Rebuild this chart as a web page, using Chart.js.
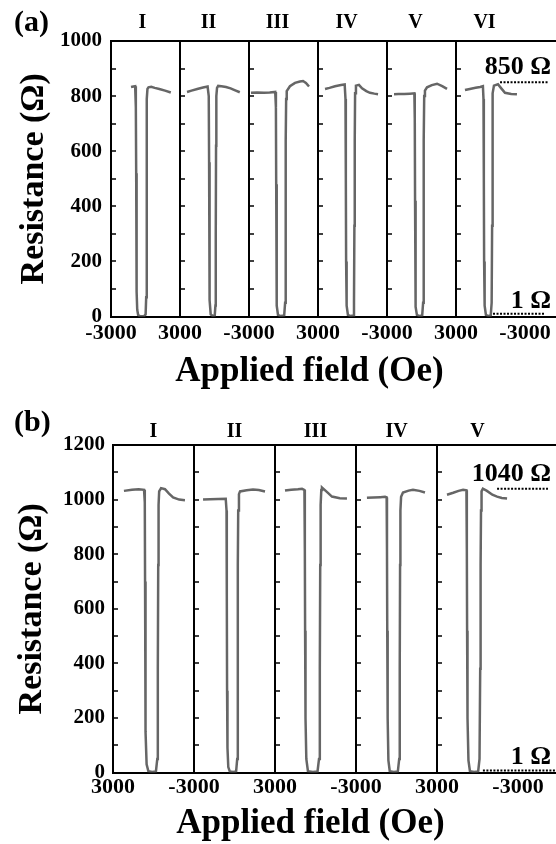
<!DOCTYPE html>
<html>
<head>
<meta charset="utf-8">
<script src="https://cdn.jsdelivr.net/npm/chart.js@4.4.1/dist/chart.umd.min.js"></script>
<style>
  html, body { margin: 0; padding: 0; background: #fff; }
  canvas { display: block; }
</style>
</head>
<body>
<canvas id="chartA" width="556" height="400"></canvas>
<canvas id="chartB" width="556" height="444"></canvas>
<script>
// ---- (a) six sweeps, field in Oe, resistance in Ohm ----
const romanA = ['I', 'II', 'III', 'IV', 'V', 'VI'];
const edgeTicksA = [-3000, 3000, -3000, 3000, -3000, 3000, -3000];

const fieldA1 = [-1260, -1050, -900, -840, -810, -785, -760, -720, -640, -500, -320, -120, 10, 60, 90, 110, 130, 170, 260, 500, 800, 1200, 1700, 2200];
const resA1 = [833, 835, 836, 760, 520, 260, 90, 25, 6, 2, 1, 2, 8, 70, 330, 620, 790, 826, 832, 834, 830, 826, 820, 813];
const fieldA2 = [2390, 2000, 1500, 1000, 600, 500, 470, 445, 410, 330, 150, -20, -80, -110, -135, -160, -220, -320, -600, -1000, -1400, -1800, -2200];
const resA2 = [815, 820, 826, 831, 835, 800, 560, 250, 60, 8, 2, 4, 40, 300, 620, 800, 830, 837, 836, 833, 828, 821, 814];
const fieldA3 = [-2830, -2300, -1700, -1200, -720, -660, -635, -610, -570, -480, -250, 60, 140, 180, 205, 230, 280, 560, 1000, 1430, 1700, 1950, 2220];
const resA3 = [812, 813, 812, 813, 815, 760, 480, 180, 40, 6, 2, 4, 50, 330, 640, 790, 818, 836, 848, 853, 855, 848, 835];
const fieldA4 = [2390, 2000, 1520, 1000, 680, 610, 580, 555, 510, 400, 150, -60, -130, -165, -195, -225, -300, -560, -830, -1200, -1520, -1900, -2220];
const resA4 = [826, 830, 836, 840, 842, 790, 500, 200, 40, 6, 2, 4, 50, 330, 640, 810, 838, 841, 828, 818, 812, 809, 807];
const fieldA5 = [-2390, -2000, -1500, -1000, -620, -585, -560, -535, -490, -400, -160, 60, 140, 180, 205, 235, 300, 480, 900, 1350, 1800, 2220];
const resA5 = [807, 808, 808, 809, 810, 720, 420, 160, 35, 6, 2, 4, 50, 330, 640, 800, 820, 832, 840, 845, 836, 826];
const fieldA6 = [2220, 1800, 1300, 900, 660, 610, 580, 555, 510, 400, 160, -20, -100, -140, -170, -200, -300, -650, -900, -1260, -1800, -2300];
const resA6 = [822, 826, 830, 833, 836, 790, 500, 200, 40, 6, 2, 4, 50, 330, 640, 810, 838, 843, 830, 812, 808, 807];

// reference levels drawn in the last sweep of (a)
const hiFieldA = [-830, -5000];
const hiResA = [850, 850];
const loFieldA = [-220, -4750];
const loResA = [10, 10];

// ---- (b) five sweeps ----
const romanB = ['I', 'II', 'III', 'IV', 'V'];
const edgeTicksB = [3000, -3000, 3000, -3000, 3000, -3000];

const fieldB1 = [2190, 1600, 1100, 700, 645, 625, 605, 575, 510, 380, 100, -180, -280, -320, -350, -375, -420, -560, -850, -1150, -1450, -1900, -2330];
const resB1 = [1032, 1036, 1038, 1036, 990, 700, 400, 150, 30, 5, 2, 4, 50, 380, 760, 980, 1030, 1042, 1038, 1022, 1008, 1000, 998];
const fieldB2 = [-2330, -1800, -1200, -650, -590, -570, -550, -520, -460, -350, -100, 120, 200, 235, 255, 275, 330, 410, 900, 1370, 1800, 2260];
const resB2 = [1000, 1001, 1002, 1003, 960, 650, 300, 90, 20, 4, 2, 4, 50, 380, 760, 960, 1020, 1030, 1034, 1037, 1035, 1030];
const fieldB3 = [2260, 1800, 1300, 1000, 820, 790, 770, 740, 680, 560, 200, -150, -260, -320, -350, -380, -430, -480, -800, -1220, -1800, -2330];
const resB3 = [1033, 1036, 1038, 1040, 1035, 820, 520, 200, 50, 5, 2, 4, 50, 380, 760, 980, 1035, 1044, 1030, 1011, 1005, 1004];
const fieldB4 = [-2190, -1700, -1200, -850, -730, -705, -685, -655, -600, -500, -200, 100, 200, 240, 265, 290, 340, 480, 900, 1220, 1700, 2110];
const resB4 = [1007, 1008, 1009, 1010, 1008, 820, 520, 200, 45, 5, 2, 4, 50, 380, 760, 960, 1010, 1026, 1033, 1036, 1032, 1026];
const fieldB5 = [2260, 1800, 1400, 1070, 820, 790, 770, 740, 670, 560, 250, -50, -150, -200, -230, -260, -300, -400, -700, -1100, -1450, -1800, -2190];
const resB5 = [1018, 1025, 1032, 1036, 1034, 820, 520, 200, 45, 5, 2, 4, 50, 380, 760, 960, 1030, 1040, 1032, 1018, 1011, 1006, 1004];

const hiFieldB = [-1450, -5220];
const hiResB = [1040, 1040];
const loFieldB = [-400, -5815];
const loResB = [8, 8];

const SERIF = '"Liberation Serif", "Times New Roman", serif';
Chart.defaults.font.family = SERIF;
Chart.defaults.font.weight = 'bold';
Chart.defaults.color = '#000';

const toPoints = (xs, ys) => xs.map((x, i) => ({ x, y: ys[i] }));

/**
 * Build one figure panel: side-by-side field sweeps sharing one resistance axis
 * @param {string} canvasId - Canvas element ID
 * @param {Object} cfg - data + layout for the panel
 * @returns {Chart}
 */
function createPanel(canvasId, cfg) {
  const L = cfg.layout;
  const n = cfg.curves.length;
  const scales = {
    y: {
      min: 0,
      max: cfg.yMax,
      afterFit: (s) => { s.width = L.axisWidth; },
      ticks: {
        stepSize: 100,
        autoSkip: false,
        padding: L.yTickPad,
        font: { size: 21 },
        callback: (v) => (v % 200 === 0 ? String(v) : '')
      },
      grid: { display: false, drawTicks: false },
      border: { color: '#000', width: 2 },
      title: {
        display: true,
        text: 'Resistance (Ω)',
        font: { size: 34 },
        padding: { top: L.yTitlePad, bottom: 0 }
      }
    }
  };

  // bottom axes, one per sweep, stacked horizontally; last one carries the extra margin
  for (let k = 0; k < n; k++) {
    const left = cfg.edges[k];
    const right = cfg.edges[k + 1];
    const last = k === n - 1;
    const weight = last ? (L.panelPx + L.extraPx) / L.panelPx : 1;
    const end = left + (right - left) * weight;
    const tickVals = last ? [left, right] : [left];
    scales['x' + k] = {
      type: 'linear',
      position: 'bottom',
      stack: 'bottom',
      stackWeight: weight,
      weight: k,
      min: Math.min(left, end),
      max: Math.max(left, end),
      reverse: left > right,
      afterBuildTicks: (s) => { s.ticks = tickVals.map((v) => ({ value: v })); },
      afterFit: (s) => { s.paddingLeft = 0; s.paddingRight = 0; },
      ticks: {
        autoSkip: false,
        maxRotation: 0,
        padding: L.xTickPad,
        font: { size: 22 },
        callback: (v) => String(v)
      },
      grid: {
        drawTicks: false,
        lineWidth: 2,
        color: (c) => (c.index === 0 ? '#000' : 'rgba(0,0,0,0)')
      },
      border: { color: '#000', width: 2 }
    };
  }

  // top axes only give the frame line and the sweep numerals
  const topAxis = (weight, order, text) => ({
    type: 'linear',
    position: 'top',
    stack: 'top',
    stackWeight: weight,
    weight: order,
    min: 0,
    max: 1,
    afterFit: (s) => { s.paddingLeft = 0; s.paddingRight = 0; },
    ticks: { display: false },
    grid: { display: false, drawTicks: false },
    border: { color: '#000', width: 2 },
    title: {
      display: text !== '',
      text: text,
      font: { size: 20 },
      padding: { top: 0, bottom: L.topPadBottom }
    }
  });
  cfg.numerals.forEach((txt, k) => {
    const w = k === 0 ? (L.panelPx - L.topShift) / L.panelPx : 1;
    scales['t' + k] = topAxis(w, 20 - k, txt);
  });
  scales.tEnd = topAxis((L.extraPx + L.topShift) / L.panelPx, 0, '');

  const datasets = cfg.curves.map((c, k) => ({
    data: toPoints(c.field, c.res),
    xAxisID: 'x' + k,
    yAxisID: 'y',
    showLine: true,
    borderColor: '#666',
    borderWidth: 2.5,
    pointRadius: 0,
    tension: 0
  }));
  [cfg.hiLine, cfg.loLine].forEach((ln) => {
    datasets.push({
      data: toPoints(ln.field, ln.res),
      xAxisID: 'x' + (n - 1),
      yAxisID: 'y',
      showLine: true,
      borderColor: '#000',
      borderWidth: 2,
      borderDash: [2, 1.5],
      pointRadius: 0
    });
  });

  const decorPlugin = {
    id: 'decor',
    afterDraw: (chart) => {
      const { ctx, chartArea } = chart;
      const yS = chart.scales.y;
      ctx.save();

      // inward tick marks on the left edge of every sweep
      ctx.strokeStyle = '#000';
      ctx.lineWidth = 1.5;
      for (let k = 0; k < n; k++) {
        const left = chart.scales['x' + k].left;
        yS.ticks.forEach((t) => {
          const py = Math.round(yS.getPixelForValue(t.value));
          ctx.beginPath();
          ctx.moveTo(left, py);
          ctx.lineTo(left + 5, py);
          ctx.stroke();
        });
      }

      ctx.fillStyle = '#000';
      ctx.font = `bold 30px ${SERIF}`;
      ctx.textAlign = 'left';
      ctx.textBaseline = 'middle';
      ctx.fillText(cfg.tag, 14, L.tagY);

      // shared x title
      ctx.font = `bold 35px ${SERIF}`;
      ctx.textAlign = 'center';
      ctx.fillText('Applied field (Oe)', (chartArea.left + chartArea.right) / 2 - 24, chart.scales.x0.bottom + 21);

      // level labels
      ctx.font = `bold 26px ${SERIF}`;
      ctx.textAlign = 'right';
      ctx.textBaseline = 'alphabetic';
      ctx.fillText(cfg.hiText, chartArea.right - 5, yS.getPixelForValue(cfg.hiLine.res[0]) - 8);
      ctx.fillText(cfg.loText, chartArea.right - 5, yS.getPixelForValue(cfg.loLine.res[0]) - 6);
      ctx.restore();
    }
  };

  return new Chart(document.getElementById(canvasId).getContext('2d'), {
    type: 'scatter',
    data: { datasets },
    options: {
      responsive: false,
      animation: false,
      events: [],
      layout: { padding: { top: L.padTop, bottom: L.padBottom, left: 0, right: 0 } },
      plugins: { legend: { display: false }, tooltip: { enabled: false } },
      scales
    },
    plugins: [decorPlugin]
  });
}

createPanel('chartA', {
  tag: '(a)',
  numerals: romanA,
  edges: edgeTicksA,
  yMax: 1000,
  curves: [
    { field: fieldA1, res: resA1 },
    { field: fieldA2, res: resA2 },
    { field: fieldA3, res: resA3 },
    { field: fieldA4, res: resA4 },
    { field: fieldA5, res: resA5 },
    { field: fieldA6, res: resA6 }
  ],
  hiLine: { field: hiFieldA, res: hiResA },
  loLine: { field: loFieldA, res: loResA },
  hiText: '850 Ω',
  loText: '1 Ω',
  layout: {
    axisWidth: 111, padTop: 11, topPadBottom: 6, xTickPad: 4, padBottom: 49,
    yTitlePad: 14, yTickPad: 9, panelPx: 69, extraPx: 31, topShift: 6, tagY: 23
  }
});

createPanel('chartB', {
  tag: '(b)',
  numerals: romanB,
  edges: edgeTicksB,
  yMax: 1200,
  curves: [
    { field: fieldB1, res: resB1 },
    { field: fieldB2, res: resB2 },
    { field: fieldB3, res: resB3 },
    { field: fieldB4, res: resB4 },
    { field: fieldB5, res: resB5 }
  ],
  hiLine: { field: hiFieldB, res: hiResB },
  loLine: { field: loFieldB, res: loResB },
  hiText: '1040 Ω',
  loText: '1 Ω',
  layout: {
    axisWidth: 113, padTop: 20, topPadBottom: 1, xTickPad: 2, padBottom: 41,
    yTitlePad: 12, yTickPad: 8, panelPx: 81, extraPx: 38, topShift: 0, tagY: 23
  }
});
</script>
</body>
</html>
